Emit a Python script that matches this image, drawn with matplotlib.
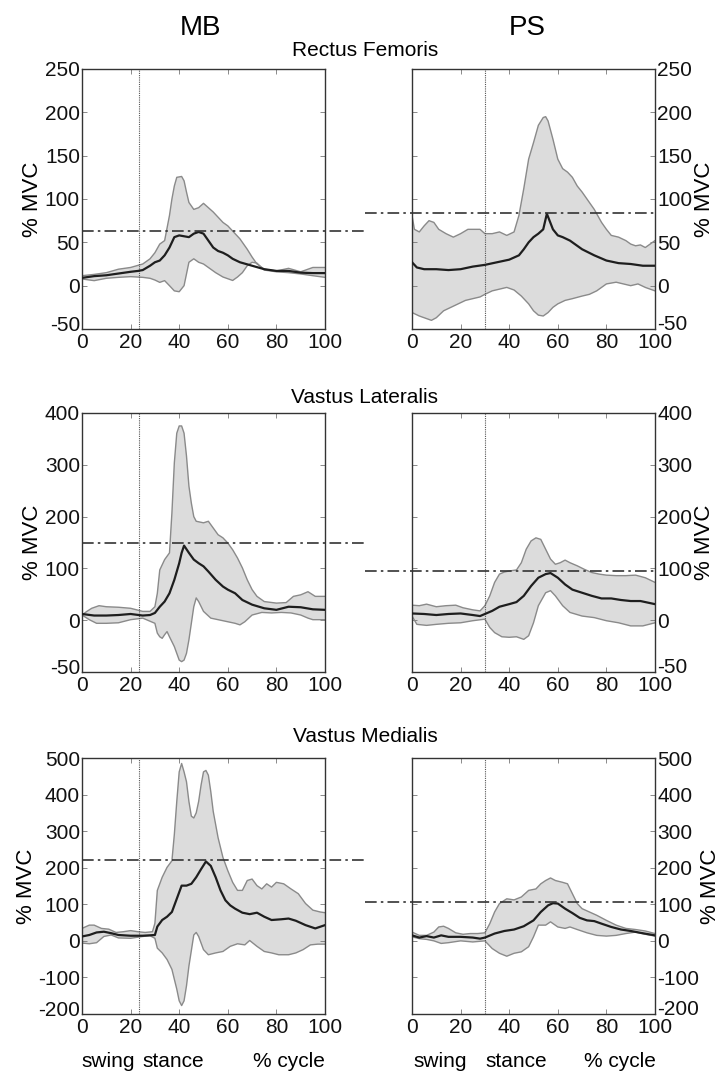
import matplotlib
matplotlib.use('Agg')
import matplotlib.pyplot as plt
from matplotlib.transforms import ScaledTranslation

plt.rcParams['font.family'] = ['Liberation Sans', 'DejaVu Sans']

GROUPS = ['MB', 'PS']
MUSCLES = ['Rectus Femoris', 'Vastus Lateralis', 'Vastus Medialis']
X_TICKS = [0, 20, 40, 60, 80, 100]

# y axes per muscle row (tick positions and the labels printed on them)
Y_LIMS = [(-50, 250), (-100, 400), (-200, 500)]
Y_TICKS = [[-50, 0, 50, 100, 150, 200, 250],
           [-100, 0, 100, 200, 300, 400],
           [-200, -100, 0, 100, 200, 300, 400, 500]]
Y_TICKLABELS = [['-50', '0', '50', '100', '150', '200', '250'],
                ['-50', '0', '100', '200', '300', '400'],
                ['-200', '-100', '0', '100', '200', '300', '400', '500']]

# start of stance (% cycle) and threshold lines (% MVC)
STANCE_ONSET = {'MB': 23.5, 'PS': 30}
THRESHOLD = {'MB': [63, 150, 220], 'PS': [84, 95, 105]}

# ---- MB, rectus femoris
mb_rf_mean_x = [0, 5, 10, 15, 20, 23, 25, 28, 30, 32, 34, 36, 38, 40, 42, 44, 46, 48, 50, 52, 54, 56, 58, 60, 62, 65, 70, 75, 80, 85, 90, 95, 100]
mb_rf_mean = [9, 11, 12, 14, 16, 17, 18, 23, 27, 29, 35, 44, 56, 58, 57, 56, 60, 62, 60, 52, 44, 40, 38, 35, 31, 27, 23, 19, 17, 17, 15, 14.5, 14.5]
mb_rf_up_x = [0, 5, 10, 15, 20, 25, 28, 30, 32, 34, 36, 37, 38, 39, 41, 42, 43, 44, 46, 48, 50, 52, 54, 56, 58, 60, 62, 65, 68, 70, 72, 75, 80, 85, 90, 95, 100]
mb_rf_up = [11.5, 13, 15, 19, 21, 25, 31, 38, 48, 52, 81, 100, 115, 125, 126, 121, 108, 96, 88, 90, 95, 90, 85, 79, 73, 69, 63, 54, 42, 33, 25, 19, 17, 20, 16, 21, 21]
mb_rf_lo_x = [0, 5, 10, 15, 20, 25, 28, 30, 32, 34, 36, 38, 40, 42, 44, 46, 48, 50, 52, 55, 58, 60, 62, 64, 66, 68, 70, 72, 75, 80, 85, 90, 95, 100]
mb_rf_lo = [7.7, 5.8, 8.5, 9.6, 10.4, 9.6, 8.5, 6.5, 3.8, 5.8, 0, -6, -7, 0, 27, 31, 27, 25, 21, 15, 10, 8, 6, 10, 15, 23, 27, 26, 18, 16, 15, 13.5, 11.5, 9.6]

# ---- PS, rectus femoris
ps_rf_mean_x = [0, 2, 5, 10, 15, 20, 25, 30, 35, 40, 44, 46, 48, 50, 52, 54, 55.5, 58, 60, 62, 65, 70, 75, 80, 85, 90, 95, 100]
ps_rf_mean = [27, 21, 19, 19, 18, 19, 22, 24, 27, 30, 35, 42, 50, 56, 60, 65, 83, 65, 58, 56, 52, 42, 35, 29, 26, 25, 23, 23]
ps_rf_up_x = [0, 1, 3, 5, 7, 9, 11, 14, 17, 20, 23, 26, 28, 30, 33, 36, 39, 42, 44, 46, 48, 50, 52, 54, 55, 56, 58, 60, 62, 64, 66, 68, 70, 72, 75, 78, 80, 82, 85, 88, 90, 92, 94, 96, 100]
ps_rf_up = [81, 65, 62, 69, 75, 73, 65, 60, 56, 60, 65, 65, 65, 60, 60, 62, 58, 62, 81, 112, 146, 165, 185, 194, 195, 190, 169, 146, 135, 131, 125, 115, 108, 100, 88, 73, 65, 58, 56, 52, 48, 46, 47, 44, 52]
ps_rf_lo_x = [0, 3, 6, 8, 10, 13, 16, 19, 22, 25, 28, 30, 33, 36, 39, 42, 45, 48, 50, 52, 54, 56, 58, 60, 63, 66, 70, 73, 76, 80, 84, 87, 90, 93, 96, 100]
ps_rf_lo = [-31, -35, -38, -40, -37, -29, -25, -21, -17, -15, -13, -10, -6, -4, -2, -5, -12, -21, -29, -34, -35, -31, -25, -21, -17, -15, -12, -10, -6, 2, 4, 2, 0, 2, -2, -6]

# ---- MB, vastus lateralis
mb_vl_mean_x = [0, 5, 10, 15, 20, 25, 28, 30, 32, 34, 36, 38, 40, 41, 42, 44, 46, 48, 50, 52, 55, 58, 60, 63, 66, 70, 75, 80, 85, 90, 95, 100]
mb_vl_mean = [12, 9, 9, 10, 12, 9, 10, 14, 26, 36, 52, 78, 110, 130, 144, 130, 117, 110, 104, 94, 78, 65, 59, 52, 39, 30, 23, 20, 26, 25, 21, 20]
mb_vl_up_x = [0, 2, 4, 7, 10, 15, 20, 25, 28, 30, 31, 32, 34, 36, 37, 38, 39, 40, 41, 42, 43, 44, 45, 46, 47, 50, 52, 54, 56, 58, 60, 62, 64, 66, 68, 70, 72, 75, 80, 84, 87, 90, 93, 96, 100]
mb_vl_up = [10, 17, 23, 28, 26, 25, 23, 17, 17, 26, 52, 97, 117, 130, 207, 304, 361, 375, 375, 361, 317, 259, 226, 200, 191, 188, 191, 178, 165, 159, 149, 136, 120, 101, 78, 59, 46, 36, 33, 34, 46, 49, 55, 46, 46]
mb_vl_lo_x = [0, 3, 6, 10, 15, 20, 25, 30, 31, 32, 33, 34, 35, 36, 38, 40, 41, 42, 43, 44, 45, 46, 47, 48, 50, 53, 56, 60, 63, 65, 67, 70, 74, 78, 82, 86, 90, 93, 95, 100]
mb_vl_lo = [10, 1, -6, -6, -5, 1, 4, -6, -25, -32, -35, -28, -22, -32, -51, -77, -80, -77, -64, -38, -6, 26, 43, 36, 17, 4, 1, -3, -6, -9, -3, 10, 15, 14, 15, 14, 10, 4, 1, 1]

# ---- PS, vastus lateralis
ps_vl_mean_x = [0, 5, 10, 15, 20, 25, 28, 30, 33, 36, 40, 43, 46, 49, 52, 55, 57, 60, 63, 66, 70, 74, 78, 82, 86, 90, 94, 100]
ps_vl_mean = [13, 12, 10, 12, 13, 10, 8, 12, 18, 26, 31, 35, 47, 66, 82, 89, 91, 82, 69, 59, 53, 47, 42, 42, 39, 37, 37, 31]
ps_vl_up_x = [0, 3, 6, 10, 14, 18, 21, 25, 28, 30, 32, 34, 36, 38, 40, 43, 45, 47, 49, 51, 53, 55, 57, 59, 61, 63, 65, 68, 71, 74, 77, 80, 84, 88, 92, 96, 100]
ps_vl_up = [29, 28, 31, 26, 28, 29, 24, 20, 18, 28, 47, 73, 89, 93, 95, 97, 111, 137, 153, 159, 156, 137, 118, 108, 111, 116, 111, 105, 98, 92, 89, 87, 86, 86, 87, 82, 73]
ps_vl_lo_x = [0, 2, 6, 10, 15, 20, 25, 30, 32, 34, 37, 40, 43, 46, 48, 50, 52, 55, 57, 59, 62, 65, 70, 75, 80, 85, 90, 95, 100]
ps_vl_lo = [8, -8, -10, -8, -6, -5, -1, 2, -14, -24, -32, -33, -32, -37, -30, -5, 28, 53, 57, 47, 28, 15, 8, 5, -1, -5, -11, -11, -5]

# ---- MB, vastus medialis
mb_vm_mean_x = [0, 3, 6, 9, 12, 15, 20, 25, 30, 31, 33, 35, 37, 39, 41, 43, 45, 47, 49, 51, 53, 55, 57, 59, 61, 63, 66, 69, 72, 75, 78, 82, 85, 88, 92, 96, 100]
mb_vm_mean = [12, 16, 23, 25, 21, 16, 14, 14, 16, 39, 57, 66, 79, 115, 151, 151, 156, 174, 196, 217, 205, 174, 138, 111, 97, 88, 77, 73, 77, 66, 57, 59, 61, 55, 43, 34, 43]
mb_vm_up_x = [0, 3, 5, 8, 11, 14, 17, 20, 23, 26, 29, 30, 31, 33, 35, 37, 38, 39, 40, 41, 42, 43, 44, 45, 46, 47, 48, 49, 50, 51, 52, 53, 54, 56, 58, 60, 62, 64, 66, 68, 70, 72, 74, 76, 78, 80, 83, 86, 89, 92, 95, 98, 100]
mb_vm_up = [34, 43, 43, 34, 32, 23, 25, 28, 25, 23, 25, 48, 138, 174, 201, 219, 291, 381, 462, 485, 462, 435, 381, 341, 336, 350, 381, 426, 462, 466, 453, 408, 354, 282, 228, 192, 160, 138, 138, 165, 169, 151, 142, 156, 147, 160, 156, 142, 129, 102, 84, 79, 77]
mb_vm_lo_x = [0, 3, 6, 9, 12, 15, 20, 25, 28, 30, 31, 33, 35, 37, 39, 40, 41, 42, 43, 44, 46, 47, 48, 50, 52, 55, 58, 61, 64, 67, 69, 72, 75, 78, 81, 85, 88, 91, 94, 97, 100]
mb_vm_lo = [-6, -8, -5, 12, 16, 8, 7, 12, 14, 7, -20, -33, -51, -78, -132, -164, -177, -164, -123, -69, 16, 23, 12, -24, -38, -33, -29, -15, -8, -11, 1, -15, -29, -33, -38, -38, -33, -24, -11, -9, -9]

# ---- PS, vastus medialis
ps_vm_mean_x = [0, 3, 6, 9, 12, 15, 20, 25, 28, 30, 34, 38, 42, 46, 50, 53, 56, 58, 60, 63, 66, 69, 72, 75, 78, 82, 86, 90, 94, 100]
ps_vm_mean = [15, 9, 13, 9, 15, 11, 11, 9, 6, 9, 20, 27, 31, 40, 56, 79, 97, 103, 102, 88, 76, 63, 56, 54, 47, 38, 31, 27, 22, 15]
ps_vm_up_x = [0, 3, 6, 9, 11, 13, 15, 18, 21, 24, 27, 30, 32, 34, 36, 39, 42, 45, 48, 51, 53, 55, 57, 59, 62, 64, 66, 68, 70, 73, 76, 80, 84, 88, 92, 96, 100]
ps_vm_up = [24, 15, 15, 24, 38, 40, 34, 22, 18, 20, 20, 22, 47, 79, 102, 115, 112, 120, 138, 142, 156, 165, 172, 165, 160, 156, 129, 102, 88, 79, 70, 56, 43, 34, 31, 27, 20]
ps_vm_lo_x = [0, 3, 6, 9, 12, 15, 20, 25, 30, 33, 36, 39, 42, 45, 48, 50, 52, 55, 57, 60, 63, 65, 68, 72, 76, 80, 84, 88, 92, 96, 100]
ps_vm_lo = [11, 6, 4, 0, -7, -5, 0, -3, 0, -21, -34, -42, -34, -30, -16, 11, 43, 43, 52, 38, 34, 38, 31, 22, 15, 13, 15, 20, 24, 18, 13]

PANELS = {
    ('MB', 0): (mb_rf_mean_x, mb_rf_mean, mb_rf_up_x, mb_rf_up, mb_rf_lo_x, mb_rf_lo),
    ('PS', 0): (ps_rf_mean_x, ps_rf_mean, ps_rf_up_x, ps_rf_up, ps_rf_lo_x, ps_rf_lo),
    ('MB', 1): (mb_vl_mean_x, mb_vl_mean, mb_vl_up_x, mb_vl_up, mb_vl_lo_x, mb_vl_lo),
    ('PS', 1): (ps_vl_mean_x, ps_vl_mean, ps_vl_up_x, ps_vl_up, ps_vl_lo_x, ps_vl_lo),
    ('MB', 2): (mb_vm_mean_x, mb_vm_mean, mb_vm_up_x, mb_vm_up, mb_vm_lo_x, mb_vm_lo),
    ('PS', 2): (ps_vm_mean_x, ps_vm_mean, ps_vm_up_x, ps_vm_up, ps_vm_lo_x, ps_vm_lo),
}

# phase labels under the bottom row: (text, % cycle)
PHASE_LABELS = {'MB': [('swing', 10.7), ('stance', 37.5), ('% cycle', 85)],
                'PS': [('swing', 11.5), ('stance', 43), ('% cycle', 85.6)]}

# layout in pixels
W, H = 722, 1075
COL_LEFT = {'MB': 82, 'PS': 412}
AX_W = 243
ROW_TOP_BOTTOM = [(69, 329), (413, 672), (758, 1014)]
THRESH_SPAN = {'MB': (0, 116.5), 'PS': (-19.5, 100)}
BOTTOM_LABEL_LIFT = {'MB': 4, 'PS': 5}   # points

FILL = '#dcdcdc'
EDGE = '#8a8a8a'
DARK = '#1e1e1e'
FS = 15

fig = plt.figure(figsize=(W / 100, H / 100), dpi=100)

for row, muscle in enumerate(MUSCLES):
    top, bottom = ROW_TOP_BOTTOM[row]
    for g in GROUPS:
        ax = fig.add_axes([COL_LEFT[g] / W, 1 - bottom / H, AX_W / W, (bottom - top) / H])
        mx, my, ux, uy, lx, ly = PANELS[(g, row)]

        ax.fill(list(ux) + list(lx[::-1]), list(uy) + list(ly[::-1]),
                facecolor=FILL, edgecolor='none', zorder=1)
        ax.plot(ux, uy, color=EDGE, lw=1.0, zorder=2)
        ax.plot(lx, ly, color=EDGE, lw=1.0, zorder=2)
        ax.plot(mx, my, color=DARK, lw=1.6, zorder=3)

        ax.axvline(STANCE_ONSET[g], color='#555555', lw=0.8,
                   linestyle=(0, (1, 1)), zorder=2)
        x0, x1 = THRESH_SPAN[g]
        ax.plot([x0, x1], [THRESHOLD[g][row]] * 2, color='#333333', lw=1.2,
                linestyle=(0, (7, 2.5, 1.5, 2.5)), clip_on=False, zorder=4)

        ax.set_xlim(0, 100)
        ax.set_ylim(*Y_LIMS[row])
        ax.set_xticks(X_TICKS)
        ax.set_yticks(Y_TICKS[row])
        ax.set_yticklabels(Y_TICKLABELS[row])
        ax.tick_params(direction='in', length=3.5, width=0.6, labelsize=FS,
                       top=True, bottom=True, left=True, right=True,
                       colors='#777777', labelcolor='#111111', pad=1.5)
        ax.tick_params(axis='x', pad=3)
        if g == 'PS':
            ax.yaxis.tick_right()
            ax.yaxis.set_label_position('right')
            ax.tick_params(axis='y', left=True)
        # lift the lowest y label a little so it clears the x labels
        lab = ax.get_yticklabels()[0]
        lab.set_transform(lab.get_transform() + ScaledTranslation(
            0, BOTTOM_LABEL_LIFT[g] / 72, fig.dpi_scale_trans))
        ax.set_ylabel('% MVC', fontsize=FS + 1, labelpad=1)
        for s in ax.spines.values():
            s.set_color('#333333')
            s.set_linewidth(1.0)

        if row == 2:
            for txt, xp in PHASE_LABELS[g]:
                ax.text(xp, -0.185, txt, transform=ax.get_xaxis_transform(),
                        ha='center', va='center', fontsize=FS)

    fig.text(365 / W, 1 - [50, 397, 737][row] / H, muscle, ha='center',
             va='center', fontsize=FS)

fig.text(200 / W, 1 - 28 / H, 'MB', ha='center', va='center', fontsize=20)
fig.text(527 / W, 1 - 28 / H, 'PS', ha='center', va='center', fontsize=20)

fig.savefig('out.png', dpi=100)
